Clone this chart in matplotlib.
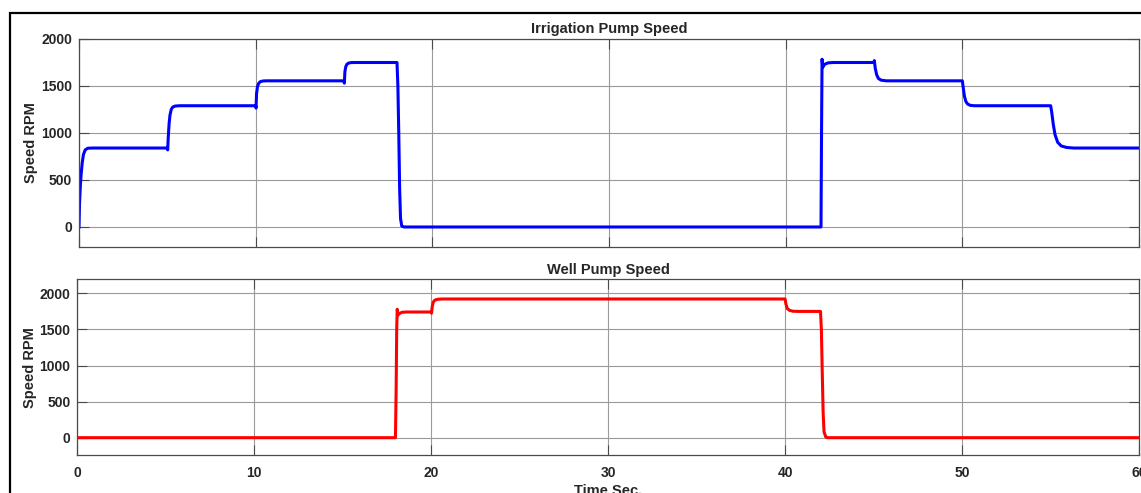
import numpy as np
import matplotlib
matplotlib.use("Agg")
import matplotlib.pyplot as plt
from matplotlib.patches import Rectangle

plt.rcParams['font.family'] = ['Liberation Sans', 'DejaVu Sans']
plt.rcParams['font.weight'] = 'bold'

# ---- data ----
irr_t = [0, 0.03, 0.08, 0.12, 0.18, 0.25, 0.35, 0.5, 0.8,
         5.0, 5.02, 5.05, 5.1, 5.15, 5.22, 5.3, 5.45, 5.7,
         10.0, 10.02, 10.05, 10.1, 10.16, 10.25, 10.4, 10.6,
         15.0, 15.02, 15.05, 15.1, 15.16, 15.25, 15.4, 15.6,
         18.0, 18.05, 18.1, 18.15, 18.2, 18.27, 18.4,
         42.0, 42.03, 42.06, 42.1, 42.2, 42.4, 42.7,
         45.0, 45.02, 45.07, 45.15, 45.25, 45.4, 45.7,
         50.0, 50.06, 50.12, 50.2, 50.3, 50.45, 50.7,
         55.0, 55.06, 55.15, 55.25, 55.4, 55.6, 55.9, 56.3, 60.0]
irr_v = [0, 250, 450, 560, 680, 770, 820, 838, 840,
         840, 820, 950, 1100, 1190, 1250, 1275, 1287, 1290,
         1290, 1265, 1420, 1490, 1525, 1545, 1553, 1555,
         1555, 1530, 1650, 1705, 1730, 1743, 1749, 1750,
         1750, 1500, 1000, 400, 90, 10, 0,
         0, 1000, 1785, 1700, 1730, 1746, 1750,
         1750, 1770, 1690, 1620, 1580, 1562, 1555,
         1555, 1470, 1390, 1335, 1308, 1294, 1290,
         1290, 1220, 1090, 980, 900, 862, 846, 840, 840]

well_t = [0, 17.98, 18.02, 18.05, 18.08, 18.12, 18.2, 18.35, 18.6,
          20.0, 20.02, 20.06, 20.12, 20.2, 20.35, 20.6,
          40.0, 40.05, 40.12, 40.25, 40.45, 40.8,
          42.0, 42.05, 42.1, 42.15, 42.2, 42.3, 42.4, 60.0]
well_v = [0, 0, 700, 1500, 1780, 1700, 1720, 1738, 1742,
          1742, 1725, 1820, 1880, 1905, 1918, 1922,
          1922, 1850, 1790, 1765, 1752, 1750,
          1750, 1500, 900, 350, 80, 10, 0, 0]

x_ticks = [0, 10, 20, 30, 40, 50, 60]
y_ticks = [0, 500, 1000, 1500, 2000]

W, H = 1141, 493
fig = plt.figure(figsize=(W / 100, H / 100), dpi=100)
fig.patch.set_facecolor('white')

ax1 = fig.add_axes([79 / W, 1 - 247 / H, (1139 - 79) / W, (247 - 39) / H])
ax2 = fig.add_axes([77.3 / W, 1 - 455 / H, (1139 - 77.3) / W, (455 - 279.3) / H])

def style(ax, ylim, title):
    ax.set_xlim(0, 60)
    ax.set_ylim(*ylim)
    ax.set_xticks(x_ticks)
    ax.set_yticks(y_ticks)
    ax.grid(True, color='#9a9a9a', lw=0.8)
    ax.set_axisbelow(True)
    for s in ax.spines.values():
        s.set_color('#4a4a4a')
        s.set_linewidth(0.9)
    ax.tick_params(direction='in', length=7, width=0.8, color='#4a4a4a',
                   top=True, right=True, labelsize=10, labelcolor='#262626', pad=5)
    ax.tick_params(axis='x', pad=8)
    for lab in ax.get_xticklabels() + ax.get_yticklabels():
        lab.set_fontweight('bold')
    ax.set_ylabel('Speed RPM', fontsize=10.5, fontweight='bold', color='#262626', labelpad=2)
    ax.set_title(title, fontsize=10.5, fontweight='bold', color='#262626', pad=4)

style(ax1, (-213, 2000), 'Irrigation Pump Speed')
ax1.plot(irr_t, irr_v, color='#0000ff', lw=2.2)
ax1.tick_params(labelbottom=False)

style(ax2, (-240, 2195), 'Well Pump Speed')
ax2.plot(well_t, well_v, color='#ff0000', lw=2.2)
ax2.set_xlabel('Time Sec.', fontsize=10.5, fontweight='bold', color='#262626', labelpad=3)

# outer frame
fig.patches.append(Rectangle((10 / W, -0.2), 1.5, 1.2 - 12.5 / H, transform=fig.transFigure,
                             fill=False, ec='black', lw=1.6))

fig.savefig('out.png', dpi=100)
